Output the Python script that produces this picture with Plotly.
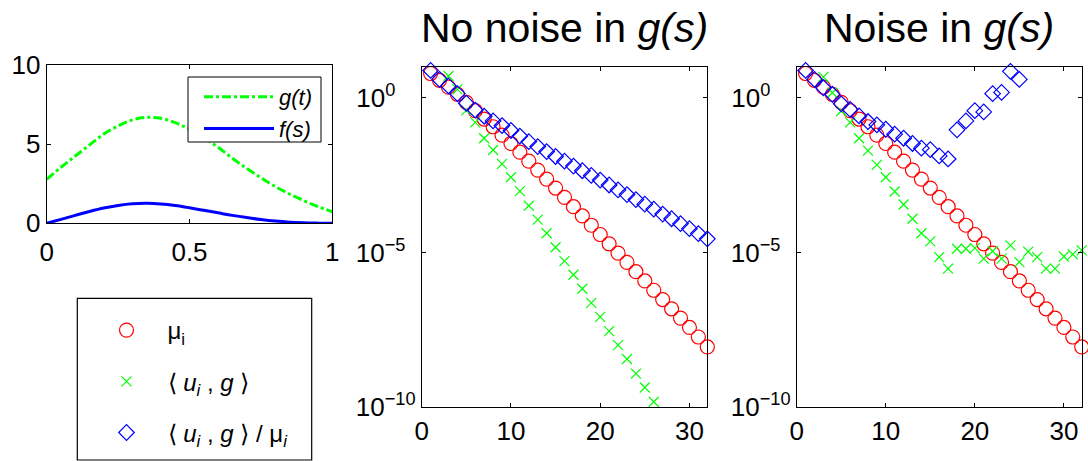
import plotly.graph_objects as go

W, H = 1088, 461

# ---------------- data ----------------
# top-left panel: functions on [0, 1]
t_vals = [0.0, 0.05, 0.1, 0.15, 0.2, 0.25, 0.3, 0.35, 0.4, 0.45, 0.5,
          0.55, 0.6, 0.65, 0.7, 0.75, 0.8, 0.85, 0.9, 0.95, 1.0]
g_vals = [2.78, 3.54, 4.25, 4.95, 5.64, 6.15, 6.53, 6.69, 6.63, 6.36, 5.94,
          5.43, 4.80, 4.11, 3.47, 2.88, 2.32, 1.85, 1.43, 1.05, 0.74]
f_vals = [0.0, 0.25, 0.50, 0.75, 0.97, 1.13, 1.23, 1.26, 1.22, 1.12, 0.98,
          0.82, 0.66, 0.50, 0.36, 0.24, 0.14, 0.07, 0.03, 0.01, 0.0]

# index i = 1..32
idx = list(range(1, 33))

# log10 of mu_i (same in both panels)
log_mu = [0.78, 0.56, 0.34, 0.11, -0.15, -0.42, -0.69, -0.94, -1.21, -1.48,
          -1.76, -2.05, -2.34, -2.63, -2.92, -3.22, -3.52, -3.82, -4.12, -4.42,
          -4.72, -5.02, -5.32, -5.62, -5.92, -6.22, -6.52, -6.82, -7.12, -7.42,
          -7.73, -8.05]

# log10 of <u_i, g>, no noise (None = outside the axis range)
log_ug_clean = [None, None, 0.70, 0.27, -0.41, -0.80, -1.31, -1.69, -2.14, -2.57,
                -3.02, -3.49, -3.94, -4.38, -4.83, -5.28, -5.72, -6.17, -6.63, -7.08,
                -7.54, -7.99, -8.44, -8.91, -9.36, -9.82, None, None, None, None,
                None, None]

# log10 of <u_i, g>/mu_i, no noise
log_ratio_clean = [0.88, 0.59, 0.38, 0.13, -0.18, -0.40, -0.60, -0.75, -0.90, -1.06,
                   -1.24, -1.42, -1.58, -1.74, -1.90, -2.05, -2.21, -2.36, -2.51, -2.66,
                   -2.82, -2.98, -3.13, -3.29, -3.44, -3.60, -3.76, -3.91, -4.07, -4.23,
                   -4.39, -4.56]

# log10 of <u_i, g>, with noise
log_ug_noisy = [None, None, 0.67, 0.16, -0.43, -0.80, -1.31, -1.71, -2.17, -2.57,
                -3.03, -3.45, -3.91, -4.38, -4.64, -5.15, -5.52, -4.88, -4.88, -4.86,
                -5.20, -4.96, -5.20, -4.77, -5.31, -4.97, -5.15, -5.52, -5.52, -5.13,
                -5.06, -4.93]

# log10 of <u_i, g>/mu_i, with noise
log_ratio_noisy = [0.88, 0.59, 0.32, 0.11, -0.20, -0.38, -0.59, -0.77, -0.88, -1.02,
                   -1.18, -1.31, -1.48, -1.63, -1.68, -1.88, -1.98, -1.04, -0.75, -0.42,
                   -0.46, 0.13, 0.17, 0.85, 0.59, None, None, None, None, None,
                   None, None]

titles = ["No noise in <i>g(s)</i>", "Noise in <i>g(s)</i>"]
log_ticks = [-10, -5, 0]
log_ticktext = ["10<sup>\u221210</sup>",
                "10<sup>\u22125\u00a0\u00a0</sup>",
                "10<sup>0\u00a0\u00a0\u00a0\u00a0</sup>"]

RED, GREEN, BLUE = "#ff0000", "#00ff00", "#0000ff"
FONT = "Liberation Sans, Arial, Helvetica, sans-serif"


def pow10(vals):
    return [None if v is None else 10 ** v for v in vals]


fig = go.Figure()

# ---- top-left panel ----
fig.add_trace(go.Scatter(x=t_vals, y=g_vals, mode="lines", name="<i>g(t)</i>",
                         line=dict(color=GREEN, width=3, dash="dashdot", shape="spline"),
                         xaxis="x", yaxis="y", legend="legend"))
fig.add_trace(go.Scatter(x=t_vals, y=f_vals, mode="lines", name="<i>f(s)</i>",
                         line=dict(color=BLUE, width=3, shape="spline"),
                         xaxis="x", yaxis="y", legend="legend"))

names = ["\u03bc<sub>i</sub>",
         "\u27e8 <i>u<sub>i</sub></i> , <i>g</i> \u27e9",
         "\u27e8 <i>u<sub>i</sub></i> , <i>g</i> \u27e9 / \u03bc<sub><i>i</i></sub>"]

panels = [(log_ug_clean, log_ratio_clean, "x2", "y2", True),
          (log_ug_noisy, log_ratio_noisy, "x3", "y3", False)]
for ug, ratio, xa, ya, show in panels:
    fig.add_trace(go.Scatter(x=idx, y=pow10(log_mu), mode="markers", name=names[0],
                             marker=dict(symbol="circle-open", size=14, color=RED,
                                         line=dict(width=1.2, color=RED)),
                             cliponaxis=False, xaxis=xa, yaxis=ya, showlegend=show,
                             legend="legend2", legendgroup="a"))
    fig.add_trace(go.Scatter(x=idx, y=pow10(ug), mode="markers", name=names[1],
                             marker=dict(symbol="x-thin-open", size=10, color=GREEN,
                                         line=dict(width=1.2, color=GREEN)),
                             cliponaxis=False, xaxis=xa, yaxis=ya, showlegend=show,
                             legend="legend2", legendgroup="b"))
    fig.add_trace(go.Scatter(x=idx, y=pow10(ratio), mode="markers", name=names[2],
                             marker=dict(symbol="diamond-open", size=12, color=BLUE,
                                         line=dict(width=1.2, color=BLUE)),
                             cliponaxis=False, xaxis=xa, yaxis=ya, showlegend=show,
                             legend="legend2", legendgroup="c"))


def px_x(p):
    return p / W


def px_y(p):
    return (H - p) / H


axis_common = dict(showline=True, linecolor="black", linewidth=1, mirror="ticks",
                   ticks="inside", ticklen=4, tickcolor="black", showgrid=False,
                   zeroline=False, tickfont=dict(size=26, color="black", family=FONT))

fig.update_layout(
    width=W, height=H,
    margin=dict(l=0, r=0, t=0, b=0, pad=0, autoexpand=False),
    paper_bgcolor="white", plot_bgcolor="white",
    font=dict(family=FONT, color="black"),
    xaxis=dict(domain=[px_x(46.7), px_x(332.3)], range=[0, 1], anchor="y",
               tickvals=[0, 0.5, 1], ticktext=["0", "0.5", "1"], ticklabelstandoff=5,
               **axis_common),
    yaxis=dict(domain=[px_y(223.3), px_y(65)], range=[0, 10], anchor="x",
               tickvals=[0, 5, 10], **axis_common),
    xaxis2=dict(domain=[px_x(421.7), px_x(707.3)], range=[0, 32], anchor="y2",
                tickvals=[0, 10, 20, 30], **axis_common),
    yaxis2=dict(domain=[px_y(407.3), px_y(66.7)], type="log", range=[-10, 1], anchor="x2",
                tickvals=[10 ** v for v in log_ticks], ticktext=log_ticktext, **axis_common),
    xaxis3=dict(domain=[px_x(796.7), px_x(1081.7)], range=[0, 32], anchor="y3",
                tickvals=[0, 10, 20, 30], **axis_common),
    yaxis3=dict(domain=[px_y(407.3), px_y(66.7)], type="log", range=[-10, 1], anchor="x3",
                tickvals=[10 ** v for v in log_ticks], ticktext=log_ticktext, **axis_common),
    legend=dict(x=px_x(199), y=px_y(76), xanchor="left", yanchor="top",
                bgcolor="rgba(0,0,0,0)", borderwidth=0,
                font=dict(size=22, family=FONT, color="black"), itemwidth=70),
    legend2=dict(x=px_x(85.5), y=px_y(308), xanchor="left", yanchor="top",
                 bgcolor="rgba(0,0,0,0)", borderwidth=0, tracegroupgap=17,
                 font=dict(size=24, family=FONT, color="black"), itemwidth=72),
    shapes=[
        dict(type="rect", xref="paper", yref="paper", layer="above",
             x0=px_x(188), x1=px_x(321), y0=px_y(142), y1=px_y(77),
             line=dict(color="black", width=1), fillcolor="white"),
        dict(type="rect", xref="paper", yref="paper", layer="above",
             x0=px_x(77.3), x1=px_x(311.7), y0=px_y(460), y1=px_y(298.3),
             line=dict(color="black", width=1.2), fillcolor="white"),
    ],
    annotations=[
        dict(text=titles[0], x=px_x(564.5), y=px_y(28), xref="paper", yref="paper",
             xanchor="center", yanchor="middle", showarrow=False,
             font=dict(size=41, family=FONT, color="black")),
        dict(text=titles[1], x=px_x(939.2), y=px_y(28), xref="paper", yref="paper",
             xanchor="center", yanchor="middle", showarrow=False,
             font=dict(size=41, family=FONT, color="black")),
    ],
)

# the page body gets no margin so the 1088x461 figure fills the window exactly
fig.write_html("out.html",
               config={"displayModeBar": False},
               post_script="document.body.style.margin='0';"
                           "document.body.style.overflow='hidden';")
